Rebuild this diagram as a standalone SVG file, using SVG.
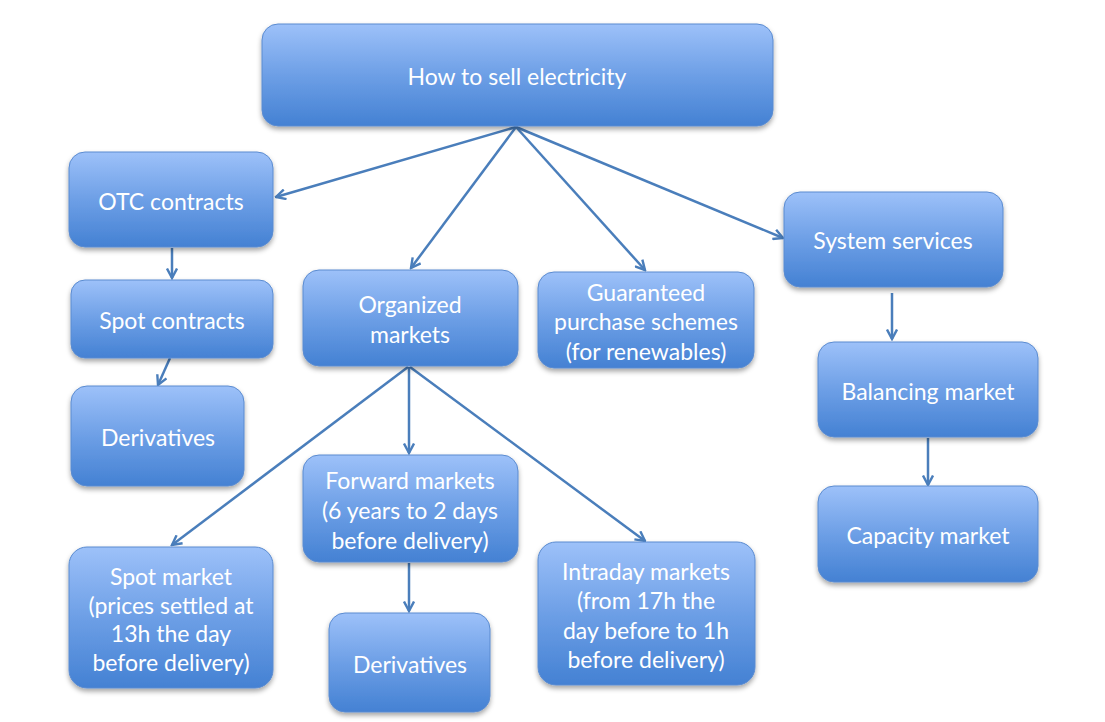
<svg xmlns="http://www.w3.org/2000/svg" width="1105" height="722" viewBox="0 0 1105 722">
<defs>
<linearGradient id="g" x1="0" y1="0" x2="0" y2="1">
<stop offset="0" stop-color="#9dc1f9"/>
<stop offset="0.5" stop-color="#6d9fe6"/>
<stop offset="1" stop-color="#4481d3"/>
</linearGradient>
<filter id="sh" x="-10%" y="-10%" width="120%" height="130%">
<feDropShadow dx="0" dy="3" stdDeviation="2.5" flood-color="#000" flood-opacity="0.35"/>
</filter>
<marker id="ah" viewBox="0 0 12 12" refX="10.5" refY="6" markerWidth="12" markerHeight="12" markerUnits="userSpaceOnUse" orient="auto">
<path d="M1,1 L10.5,6 L1,11" fill="none" stroke="#4a7ebb" stroke-width="2.4"/>
</marker>
<style>
.n rect{fill:url(#g);stroke:#5a8bd0;stroke-width:1;filter:url(#sh)}
.n text{font-family:Lato,"Open Sans","Liberation Sans",sans-serif;font-size:23px;fill:#fff;text-anchor:middle}
#conn line{stroke:#4a7ebb;stroke-width:2.5;marker-end:url(#ah)}
</style>
</defs>
<rect width="1105" height="722" fill="#fff"/>
<g id="conn">
<line x1="516" y1="127" x2="276" y2="197"/>
<line x1="516" y1="127" x2="411" y2="268"/>
<line x1="516" y1="127" x2="645" y2="270"/>
<line x1="516" y1="127" x2="783" y2="238"/>
<line x1="172" y1="248" x2="172" y2="278"/>
<line x1="170" y1="358" x2="158" y2="385"/>
<line x1="408" y1="367" x2="172" y2="545"/>
<line x1="409" y1="367" x2="409" y2="453"/>
<line x1="410" y1="367" x2="645" y2="541"/>
<line x1="409" y1="563" x2="409" y2="611"/>
<line x1="892" y1="293" x2="892" y2="339"/>
<line x1="928" y1="438" x2="928" y2="485"/>
</g>
<g id="root" class="n"><rect x="262" y="24" width="511" height="102" rx="16"/><text x="517" y="85">How to sell electricity</text></g>
<g id="otc" class="n"><rect x="69" y="152" width="204" height="95" rx="16"/><text x="171" y="210">OTC contracts</text></g>
<g id="spotc" class="n"><rect x="71" y="280" width="202" height="78" rx="14"/><text x="172" y="329">Spot contracts</text></g>
<g id="deriv1" class="n"><rect x="71" y="386" width="173" height="100" rx="16"/><text x="158" y="446">Derivatives</text></g>
<g id="org" class="n"><rect x="303" y="270" width="215" height="96" rx="16"/><text x="410" y="313">Organized</text><text x="410" y="343">markets</text></g>
<g id="guar" class="n"><rect x="538" y="272" width="216" height="96" rx="16"/><text x="646" y="301">Guaranteed</text><text x="646" y="330">purchase schemes</text><text x="646" y="360">(for renewables)</text></g>
<g id="sys" class="n"><rect x="784" y="192" width="219" height="95" rx="16"/><text x="893" y="249">System services</text></g>
<g id="bal" class="n"><rect x="818" y="342" width="220" height="95" rx="16"/><text x="928" y="400">Balancing market</text></g>
<g id="cap" class="n"><rect x="818" y="486" width="220" height="96" rx="16"/><text x="928" y="544">Capacity market</text></g>
<g id="fwd" class="n"><rect x="303" y="455" width="215" height="107" rx="16"/><text x="410" y="489">Forward markets</text><text x="410" y="519">(6 years to 2 days</text><text x="410" y="549">before delivery)</text></g>
<g id="spotm" class="n"><rect x="69" y="547" width="204" height="141" rx="18"/><text x="171" y="585">Spot market</text><text x="171" y="614">(prices settled at</text><text x="171" y="642">13h the day</text><text x="171" y="671">before delivery)</text></g>
<g id="deriv2" class="n"><rect x="329" y="613" width="161" height="99" rx="16"/><text x="410" y="673">Derivatives</text></g>
<g id="intra" class="n"><rect x="538" y="542" width="217" height="143" rx="18"/><text x="646" y="580">Intraday markets</text><text x="646" y="609">(from 17h the</text><text x="646" y="639">day before to 1h</text><text x="646" y="668">before delivery)</text></g>
</svg>
